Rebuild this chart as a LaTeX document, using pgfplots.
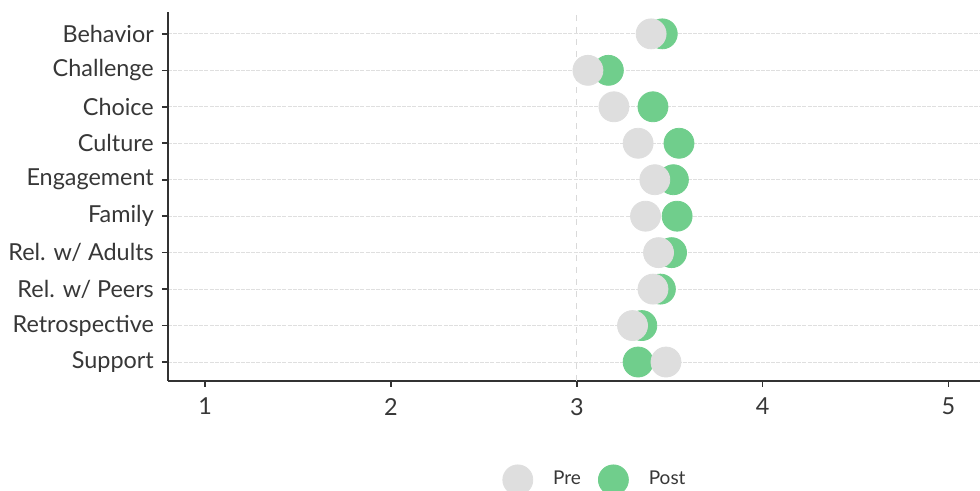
\documentclass[border=0pt]{standalone}
\usepackage{pgfplots}
\pgfplotsset{compat=1.18}
\usepackage{fontspec}
\setmainfont{Lato}
\definecolor{pregray}{RGB}{222,222,222}
\definecolor{postgreen}{RGB}{112,206,140}
\definecolor{axisdark}{RGB}{50,50,50}
\definecolor{textdark}{RGB}{55,55,55}
\begin{document}
\fontsize{11.7}{14}\selectfont
\begin{tikzpicture}
\useasboundingbox (-84pt,-55pt) rectangle (406pt,190.5pt);
\begin{axis}[
  at={(0,0)}, anchor=south west,
  scale only axis, width=406pt, height=184.5pt,
  xmin=0.8, xmax=5.17, ymin=0.48, ymax=10.6,
  axis x line*=bottom, axis y line*=left,
  axis line style={axisdark, line width=1pt, -},
  xtick={1,2,3,4,5}, ytick={1,...,10},
  yticklabels={Support,Retrospective,Rel. w/ Peers,Rel. w/ Adults,Family,Engagement,Culture,Choice,Challenge,Behavior},
  tick style={axisdark, line width=0.8pt},
  tick align=outside, major tick length=3pt,
  ymajorgrids, grid style={gray!25, line width=0.5pt, dash pattern=on 2pt off 0.6pt},
  /pgf/number format/assume math mode=true,
  ticklabel style={textdark},
  yticklabel style={font=\fontsize{11.7}{14}\selectfont},
  xticklabel style={font=\fontsize{11.7}{14}\selectfont, yshift=-1.5pt},
  clip=false,
  legend style={at={(0.5246,-0.268)}, anchor=center, draw=none, fill=none,
    legend columns=2, font=\fontsize{9.5}{11}\selectfont\color{textdark},
    nodes={inner sep=0pt}, column sep=10pt,
    /tikz/every even column/.append style={column sep=8.5pt}},
]
\addplot[gray!30, dashed, line width=0.6pt, forget plot] coordinates {(3,0.48) (3,10.6)};
% Post (green)
\addplot[only marks, mark=*, mark size=7.5pt, color=postgreen, forget plot] coordinates {
(3.46,10) (3.17,9) (3.41,8) (3.55,7) (3.52,6) (3.54,5) (3.51,4) (3.45,3) (3.35,2) (3.33,1)};
% Pre (gray)
\addplot[only marks, mark=*, mark size=7.5pt, color=pregray, forget plot] coordinates {
(3.40,10) (3.06,9) (3.20,8) (3.33,7) (3.42,6) (3.37,5) (3.44,4) (3.41,3) (3.30,2) (3.48,1)};
\addlegendimage{legend image code/.code={\fill[pregray] (7.5pt,0pt) circle (7.5pt);}}
\addlegendentry{Pre}
\addlegendimage{legend image code/.code={\fill[postgreen] (7.5pt,0pt) circle (7.5pt);}}
\addlegendentry{Post}
\end{axis}
\end{tikzpicture}
\end{document}
